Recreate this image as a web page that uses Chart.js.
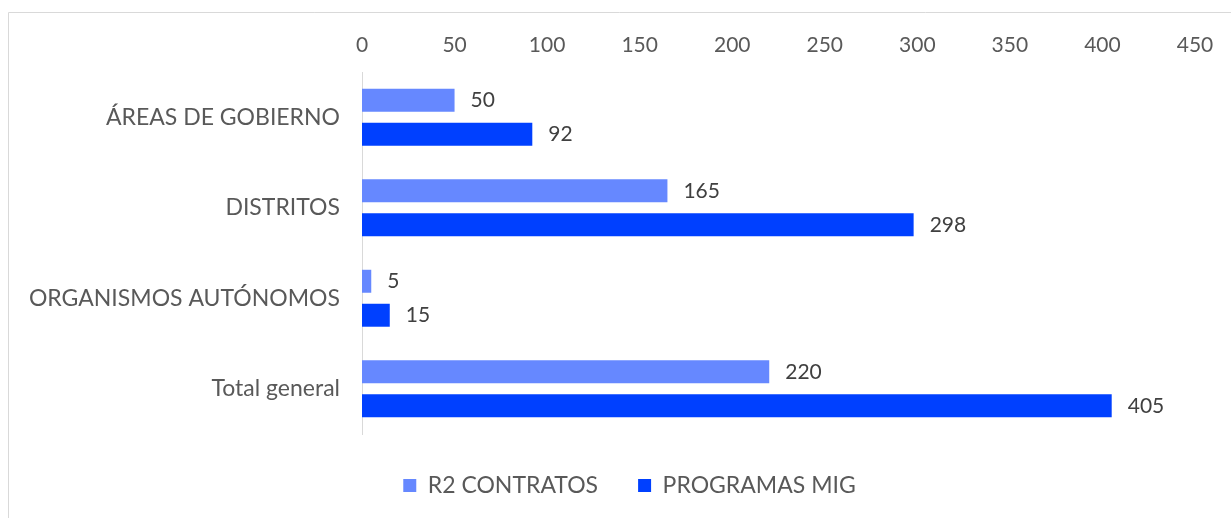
<!DOCTYPE html>
<html>
<head>
<meta charset="utf-8">
<script src="https://cdn.jsdelivr.net/npm/chart.js@4/dist/chart.umd.min.js"></script>
<style>
  html, body { margin: 0; padding: 0; background: #fff; }
  #wrap { position: relative; width: 1231px; height: 518px; }
</style>
</head>
<body>
<div id="wrap"><canvas id="myChart" width="1231" height="518"></canvas></div>
<script>
const categorias = [
  'ÁREAS DE GOBIERNO',
  'DISTRITOS',
  'ORGANISMOS AUTÓNOMOS',
  'Total general',
];
const r2Contratos = [50, 165, 5, 220];
const programasMig = [92, 298, 15, 405];
const xTicks = [0, 50, 100, 150, 200, 250, 300, 350, 400, 450];

const fuente = 'Lato, "Open Sans", sans-serif';

// marco gris del gráfico
const marco = {
  id: 'marco',
  beforeDraw(chart) {
    const ctx = chart.ctx;
    ctx.save();
    ctx.strokeStyle = '#d9d9d9';
    ctx.lineWidth = 1;
    ctx.beginPath();
    ctx.moveTo(8.5, chart.height);
    ctx.lineTo(8.5, 12.5);
    ctx.lineTo(chart.width, 12.5);
    ctx.stroke();
    ctx.restore();
  }
};

// la leyenda va centrada en el marco, no en el área útil
const moverLeyenda = {
  id: 'moverLeyenda',
  afterLayout(chart) {
    chart.legend.left += 32;
    chart.legend.right += 32;
  }
};

// etiquetas de valor al final de cada barra
const etiquetas = {
  id: 'etiquetas',
  afterDatasetsDraw(chart) {
    const ctx = chart.ctx;
    ctx.save();
    ctx.font = '21px ' + fuente;
    ctx.fillStyle = '#404040';
    ctx.textAlign = 'left';
    ctx.textBaseline = 'middle';
    chart.data.datasets.forEach((ds, i) => {
      chart.getDatasetMeta(i).data.forEach((bar, j) => {
        ctx.fillText(ds.data[j], bar.x + 16, bar.y);
      });
    });
    ctx.restore();
  }
};

const data = {
  labels: categorias,
  datasets: [
    {
      label: 'R2 CONTRATOS',
      data: r2Contratos,
      backgroundColor: '#6688ff',
      categoryPercentage: 0.751,
      barPercentage: 0.676,
    },
    {
      label: 'PROGRAMAS MIG',
      data: programasMig,
      backgroundColor: '#0040ff',
      categoryPercentage: 0.751,
      barPercentage: 0.676,
    }
  ]
};

const config = {
  type: 'bar',
  data: data,
  options: {
    indexAxis: 'y',
    responsive: false,
    animation: false,
    layout: { padding: { left: 0, right: 36, top: 0, bottom: 11 } },
    scales: {
      x: {
        position: 'top',
        min: xTicks[0],
        max: xTicks[xTicks.length - 1],
        afterBuildTicks(scale) {
          scale.ticks = xTicks.map(v => ({ value: v }));
        },
        afterFit(scale) { scale.height = 72; },
        grid: { display: false, drawTicks: false },
        border: { display: false },
        ticks: {
          color: '#595959',
          font: { family: fuente, size: 21 },
          padding: 14,
        }
      },
      y: {
        afterFit(scale) { scale.width = 362; },
        grid: { display: false, drawTicks: false },
        border: { display: true, color: '#d9d9d9', width: 1 },
        ticks: {
          color: '#595959',
          font: { family: fuente, size: 23 },
          padding: 22,
        }
      }
    },
    plugins: {
      legend: {
        position: 'bottom',
        labels: {
          boxWidth: 13,
          boxHeight: 13,
          padding: 40,
          color: '#595959',
          font: { family: fuente, size: 23 },
        }
      },
      tooltip: { enabled: false }
    }
  },
  plugins: [marco, moverLeyenda, etiquetas]
};

const myChart = new Chart(document.getElementById('myChart'), config);
</script>
</body>
</html>
